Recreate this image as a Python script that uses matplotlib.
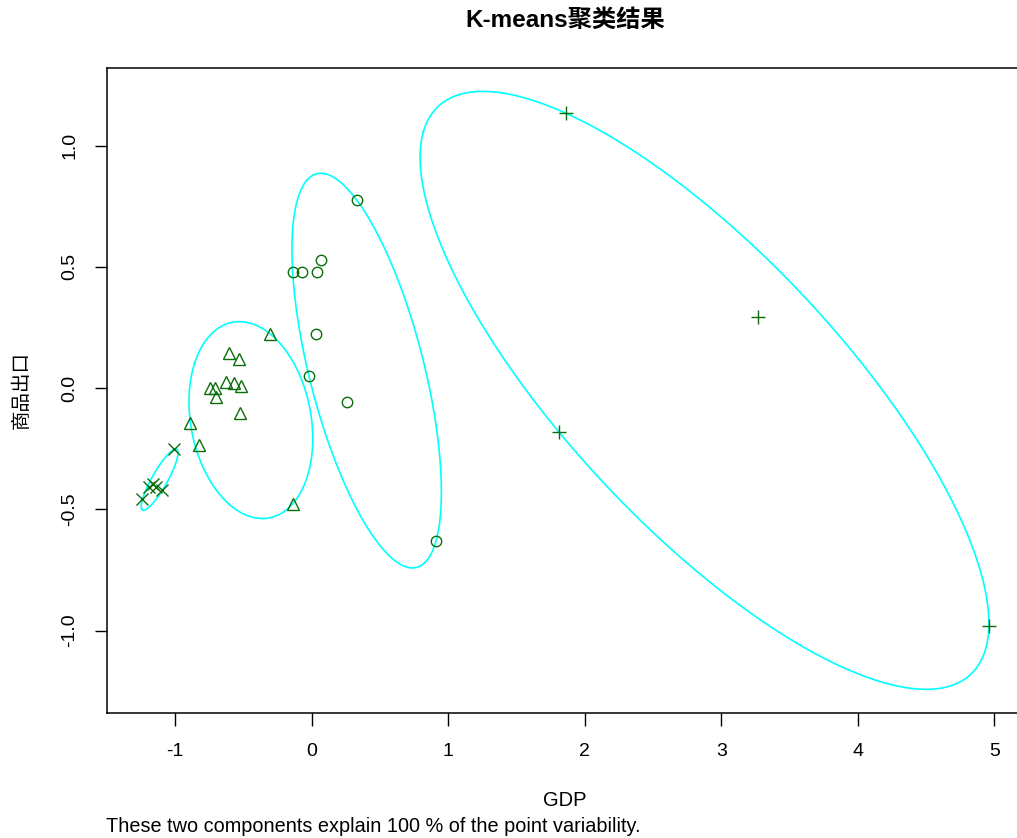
import numpy as np
import matplotlib
matplotlib.use("Agg")
import matplotlib.pyplot as plt

plt.rcParams['font.family'] = ['Liberation Sans', 'Noto Sans CJK SC', 'DejaVu Sans']
plt.rcParams['axes.unicode_minus'] = False

# cluster members (GDP, 商品出口)
circle_x = [0.33, -0.14, -0.07, 0.04, 0.07, 0.03, -0.02, 0.26, 0.91]
circle_y = [0.775, 0.478, 0.478, 0.478, 0.528, 0.224, 0.048, -0.058, -0.631]

tri_x = [-0.308, -0.608, -0.535, -0.630, -0.571, -0.520, -0.747, -0.708, -0.705, -0.527, -0.889, -0.828, -0.141]
tri_y = [0.225, 0.143, 0.118, 0.026, 0.022, 0.008, -0.001, -0.001, -0.036, -0.104, -0.143, -0.235, -0.478]

plus_x = [1.86, 3.27, 1.81, 4.96]
plus_y = [1.134, 0.293, -0.181, -0.981]

cross_x = [-1.009, -1.192, -1.163, -1.143, -1.094, -1.240]
cross_y = [-0.253, -0.407, -0.397, -0.407, -0.421, -0.459]

clusters = [
    (circle_x, circle_y, 'o', 7.5),
    (tri_x, tri_y, '^', 9),
    (plus_x, plus_y, '+', 10),
    (cross_x, cross_y, 'x', 8),
]


def mvee(pts, tol=1e-6, max_iter=20000):
    # minimum volume enclosing ellipse (Khachiyan), like R's ellipsoidhull
    n, d = pts.shape
    Q = np.vstack([pts.T, np.ones(n)])
    u = np.ones(n) / n
    for _ in range(max_iter):
        X = Q @ np.diag(u) @ Q.T
        M = np.einsum('ij,ji->i', Q.T @ np.linalg.inv(X), Q)
        j = np.argmax(M)
        step = (M[j] - d - 1) / ((d + 1) * (M[j] - 1))
        new_u = (1 - step) * u
        new_u[j] += step
        err = np.linalg.norm(new_u - u)
        u = new_u
        if err < tol:
            break
    c = pts.T @ u
    A = np.linalg.inv(pts.T @ np.diag(u) @ pts - np.outer(c, c)) / d
    return c, A


W, H = 1017, 838
fig = plt.figure(figsize=(W / 100, H / 100), dpi=100)
ax = fig.add_axes([107 / W, 125 / H, (1023 - 107) / W, (713 - 68) / H])

green = '#0a6e0a'
t = np.linspace(0, 2 * np.pi, 400)
for xs, ys, m, ms in clusters:
    pts = np.column_stack([xs, ys])
    c, A = mvee(pts)
    vals, vecs = np.linalg.eigh(A)
    circ = np.vstack([np.cos(t), np.sin(t)])
    ell = c[:, None] + vecs @ np.diag(1 / np.sqrt(vals)) @ circ
    ax.plot(ell[0], ell[1], color='#00FFFF', lw=1.2, zorder=1)
    ax.plot(xs, ys, linestyle='none', marker=m, markersize=ms,
            markerfacecolor='none', markeredgecolor=green, markeredgewidth=1.0, zorder=2)

ax.set_xlim(-1.50, 5.21)
ax.set_ylim(-1.34, 1.32)
ax.set_xticks([-1, 0, 1, 2, 3, 4, 5])
ax.set_yticks([-1.0, -0.5, 0.0, 0.5, 1.0])
ax.set_yticklabels(['-1.0', '-0.5', '0.0', '0.5', '1.0'], rotation=90, va='center')
ax.tick_params(direction='out', length=9, width=1, labelsize=14)
ax.tick_params(axis='x', pad=12.5)
ax.tick_params(axis='y', pad=11.5)
for s in ax.spines.values():
    s.set_linewidth(1.1)

fig.text(565 / W, 1 - 20 / H, 'K-means聚类结果', ha='center', va='center',
         fontsize=17.5, fontweight='bold')
fig.text(565 / W, 1 - 800 / H, 'GDP', ha='center', va='center', fontsize=14.5)
fig.text(22 / W, 1 - 390 / H, '商品出口', ha='center', va='center', rotation=90, fontsize=14)
fig.text(106 / W, 1 - 826 / H, 'These two components explain 100 % of the point variability.',
         ha='left', va='center', fontsize=14.3)

fig.savefig('out.png', dpi=100)
